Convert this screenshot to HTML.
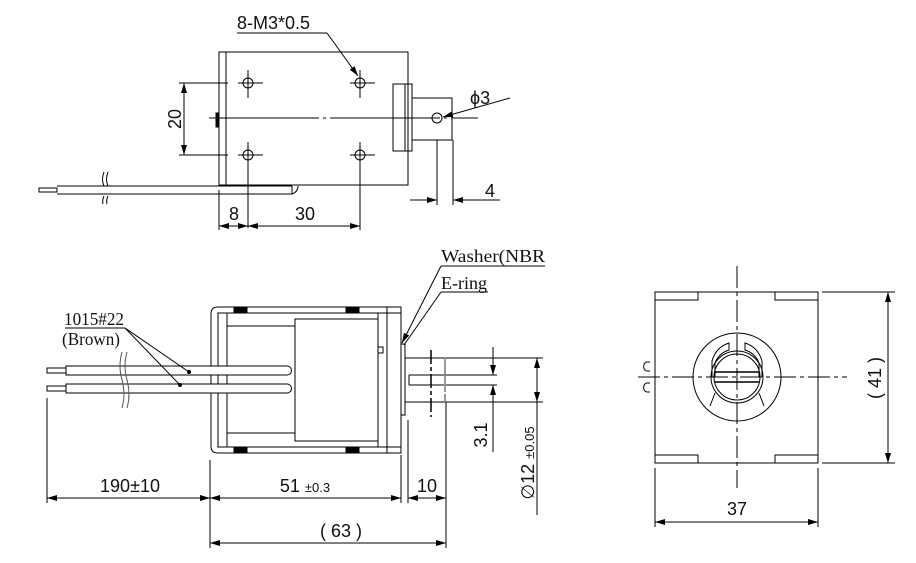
<!DOCTYPE html>
<html><head><meta charset="utf-8"><style>
html,body{margin:0;padding:0;background:#fff}
svg{display:block}
text{font-family:"Liberation Sans",sans-serif;fill:#111}
.s{font-family:"Liberation Serif",serif}
</style></head><body>
<svg width="916" height="563" viewBox="0 0 916 563" xmlns="http://www.w3.org/2000/svg">
<defs>
<marker id="a" viewBox="0 0 10 6" refX="10" refY="3" markerWidth="10" markerHeight="6" orient="auto-start-reverse" markerUnits="userSpaceOnUse"><path d="M0,0L10,3L0,6z" fill="#000"/></marker>
</defs>
<g stroke="#000" stroke-width="1" fill="none">
<!-- TOP VIEW -->
<rect x="219" y="52" width="189" height="133"/>
<line x1="226" y1="52" x2="226" y2="185"/>
<rect x="216" y="113" width="3" height="14" fill="#000"/>
<line x1="209" y1="118" x2="478" y2="118" stroke-dasharray="110,4,3,4"/>
<g>
<circle cx="248" cy="83" r="5"/><circle cx="360" cy="83" r="5"/>
<circle cx="248" cy="155" r="5"/><circle cx="360" cy="155" r="5"/>
<path d="M238 83H263M350 83H375M238 155H263M350 155H375M248 70V98M360 70V98M248 142V228M360 142V230"/>
</g>
<path d="M179 83H228M179 155H228"/>
<line x1="184" y1="83" x2="184" y2="155" marker-start="url(#a)" marker-end="url(#a)"/>
<rect x="393" y="84" width="19" height="67"/>
<line x1="405" y1="84" x2="405" y2="151"/>
<rect x="412" y="98" width="40" height="42"/>
<circle cx="437" cy="118" r="5"/>
<line x1="510" y1="98" x2="443" y2="117" marker-end="url(#a)"/>
<path d="M237 33H327"/>
<line x1="327" y1="33" x2="358" y2="76" marker-end="url(#a)"/>
<path d="M57 186H292M57 194H292M39 188H57V192H39Z"/>
<path d="M292 186v8M292 194q6 -2 6 -8"/>
<path d="M104 172q-3 8 0 14M108 172q-3 8 0 14M104 196q-2 4 -1 8M108 196q-2 4 -1 8"/>
<path d="M437 140V205M453 140V205"/>
<line x1="410" y1="200" x2="437" y2="200" marker-end="url(#a)"/>
<line x1="500" y1="200" x2="453" y2="200" marker-end="url(#a)"/>
<path d="M219 190V230"/>
<line x1="219" y1="226" x2="248" y2="226" marker-start="url(#a)" marker-end="url(#a)"/>
<line x1="248" y1="226" x2="360" y2="226" marker-start="url(#a)" marker-end="url(#a)"/>

<!-- SIDE VIEW -->
<path d="M401 307H218q-7 0 -7 7V446q0 7 7 7H401V447H218V313H401Z"/>
<rect x="218" y="313" width="9" height="134"/>
<rect x="234" y="307" width="13" height="6" fill="#000"/><rect x="346" y="307" width="13" height="6" fill="#000"/>
<rect x="234" y="447" width="13" height="6" fill="#000"/><rect x="346" y="447" width="13" height="6" fill="#000"/>
<rect x="295" y="319" width="83" height="122"/>
<path d="M227 326H295M227 433H295"/>
<rect x="378" y="313" width="9" height="134"/>
<rect x="387" y="307" width="14" height="146"/>
<rect x="378" y="347" width="5" height="6"/>
<rect x="401" y="344" width="4" height="71"/>
<path d="M405 358H543M405 402H543M409 375H497M409 385H497M409 375V385"/>
<path d="M431 350V417" stroke-width="1.5" stroke-dasharray="14,3,4,3"/>
<path d="M445 358V402" stroke="#999" stroke-width="2" stroke-dasharray="16,2"/>
<line x1="493" y1="347" x2="493" y2="375" marker-end="url(#a)"/>
<line x1="493" y1="452" x2="493" y2="385" marker-end="url(#a)"/>
<line x1="537" y1="358" x2="537" y2="402" marker-start="url(#a)" marker-end="url(#a)"/>
<line x1="537" y1="402" x2="537" y2="515"/>
<path d="M66 366H287a4.5 4.5 0 0 1 0 9H66ZM66 384H287a4.5 4.5 0 0 1 0 9H66Z" fill="#fff"/>
<path d="M47 368H66V373H47ZM47 386H66V391H47Z"/>
<path d="M122 352q-4 14 0 28q4 14 0 28M127 352q-4 14 0 28q4 14 0 28" stroke="#555"/>
<path d="M47 398V503M210 460V548M401 455V503M408 420V503M446 402V548"/>
<line x1="47" y1="498" x2="210" y2="498" marker-start="url(#a)" marker-end="url(#a)"/>
<line x1="210" y1="498" x2="401" y2="498" marker-start="url(#a)" marker-end="url(#a)"/>
<line x1="408" y1="498" x2="446" y2="498" marker-start="url(#a)" marker-end="url(#a)"/>
<line x1="210" y1="543" x2="446" y2="543" marker-start="url(#a)" marker-end="url(#a)"/>
<path d="M441 266H545M441 292H488M65 328H125"/>
<line x1="441" y1="266" x2="402" y2="343" marker-end="url(#a)"/>
<line x1="441" y1="292" x2="404" y2="345"/>
<line x1="125" y1="328" x2="189" y2="372"/>
<line x1="125" y1="328" x2="180" y2="385"/>

<!-- END VIEW -->
<rect x="655" y="292" width="163" height="171"/>
<path d="M655 300H698V292M818 300H775V292M655 455H698V463M818 455H775V463"/>
<path d="M737 266V488M638 377H847" stroke-dasharray="22,4,4,4"/>
<circle cx="737" cy="377" r="44"/>
<circle cx="737" cy="377" r="26"/>
<circle cx="737" cy="377" r="23"/>
<path d="M712 377V361q4 -14 17 -18V350q-10 3 -14 13V377M762 377V361q-4 -14 -17 -18V350q10 3 14 13V377M715 393L710 406M759 393L764 406"/>
<path d="M715 372H759M715 382H759" stroke-width="1.5"/>
<path d="M650 362h-3a3 4 0 0 0 0 9h3M650 383h-3a3 4 0 0 0 0 9h3"/>
<path d="M822 292H895M822 463H895M655 468V527M818 468V527"/>
<line x1="888" y1="292" x2="888" y2="463" marker-start="url(#a)" marker-end="url(#a)"/>
<line x1="655" y1="522" x2="818" y2="522" marker-start="url(#a)" marker-end="url(#a)"/>
</g>
<g font-size="18">
<text x="237" y="29">8-M3*0.5</text>
<text x="470" y="104">ϕ3</text>
<text x="485" y="197">4</text>
<text x="229" y="220">8</text>
<text x="295" y="220">30</text>
<text transform="translate(181,119) rotate(-90)" text-anchor="middle">20</text>
<text x="130" y="492" text-anchor="middle">190±10</text>
<text x="305" y="492" text-anchor="middle">51 <tspan font-size="13">±0.3</tspan></text>
<text x="427" y="492" text-anchor="middle">10</text>
<text x="341" y="537" text-anchor="middle">( 63 )</text>
<text transform="translate(487,435) rotate(-90)" text-anchor="middle">3.1</text>
<text transform="translate(534,463) rotate(-90)" text-anchor="middle">∅12 <tspan font-size="13">±0.05</tspan></text>
<text x="737" y="515" text-anchor="middle">37</text>
<text transform="translate(881,378) rotate(-90)" text-anchor="middle">( 41 )</text>
</g>
<g>
<text class="s" x="441" y="262" font-size="18" textLength="104" lengthAdjust="spacingAndGlyphs">Washer(NBR</text>
<text class="s" x="441" y="289" font-size="18">E-ring</text>
<text class="s" x="64" y="325" font-size="18" textLength="60" lengthAdjust="spacingAndGlyphs">1015#22</text>
<text class="s" x="62" y="345" font-size="18" textLength="58" lengthAdjust="spacingAndGlyphs">(Brown)</text>
</g>
<circle cx="189" cy="372" r="2" fill="#000"/><circle cx="180" cy="385" r="2" fill="#000"/>
</svg>
</body></html>
